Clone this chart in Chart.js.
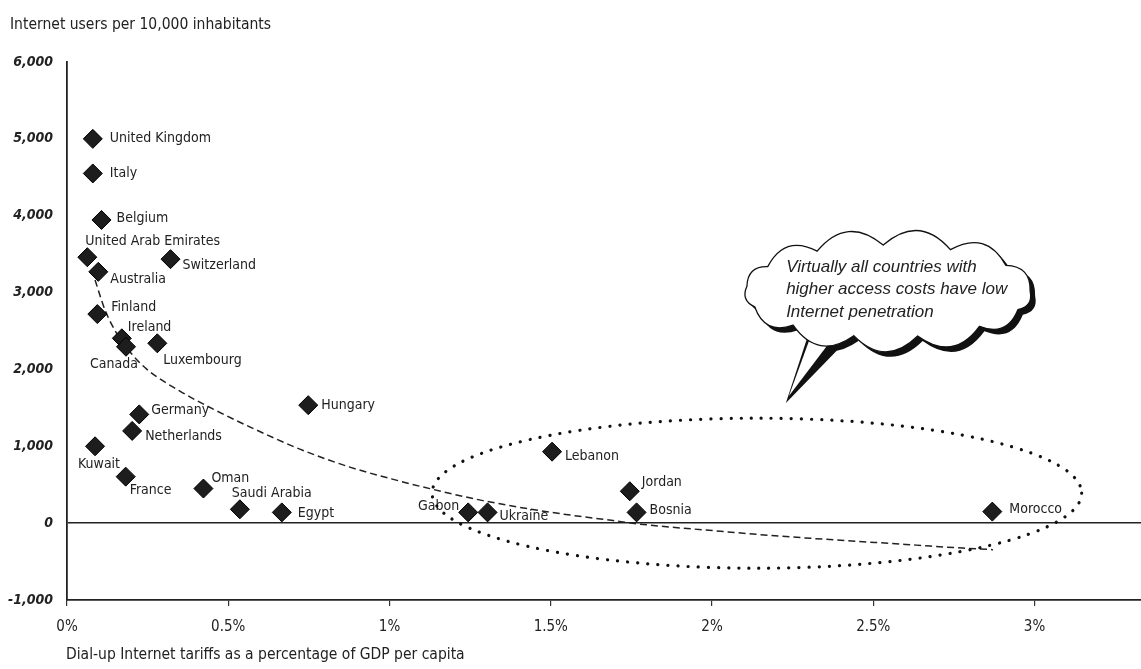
<!DOCTYPE html>
<html><head><meta charset="utf-8">
<script src="https://cdn.jsdelivr.net/npm/chart.js@4/dist/chart.umd.min.js"></script>
<style>html,body{margin:0;padding:0;background:#fff}canvas{display:block}</style>
</head><body>
<canvas id="c" width="1141" height="669"></canvas>
<script>
// ---- data ----
const countries = ["United Kingdom","Italy","Belgium","United Arab Emirates","Switzerland","Australia","Finland","Ireland","Canada","Luxembourg","Hungary","Germany","Netherlands","Kuwait","France","Oman","Saudi Arabia","Egypt","Lebanon","Jordan","Bosnia","Gabon","Ukraine","Morocco"];
const tariffPct = [0.08,0.08,0.107,0.063,0.321,0.097,0.094,0.17,0.183,0.28,0.748,0.224,0.202,0.087,0.182,0.423,0.536,0.666,1.504,1.745,1.766,1.244,1.304,2.869];
const usersPer10k = [5000,4550,3945,3460,3435,3270,2720,2405,2295,2340,1535,1415,1200,1000,605,450,180,140,930,415,140,140,140,150];
const trendPct = [0.087,0.118,0.154,0.195,0.247,0.350,0.453,0.568,0.722,0.877,1.032,1.125,1.290,1.497,1.693,1.777,2.004,2.210,2.634,2.778,2.871];
const trendUsers = [3163,2772,2469,2230,2004,1718,1484,1250,963,729,547,449,293,143,33,-13,-98,-169,-286,-325,-345];
const xTickValues = [0,0.5,1,1.5,2,2.5,3];
const yTickValues = [-1000,0,1000,2000,3000,4000,5000,6000];
const yTitle = "Internet users per 10,000 inhabitants";
const xTitle = "Dial-up Internet tariffs as a percentage of GDP per capita";
const calloutLines = ["Virtually all countries with","higher access costs have low","Internet penetration"];

// ---- presentation ----
const NARROW = "'Liberation Sans Narrow','DejaVu Sans Condensed',sans-serif";
const labelPlacement = {
  "United Kingdom":[17,0,'left'], "Italy":[17,0,'left'], "Belgium":[15,-2,'left'],
  "United Arab Emirates":[-2,-16,'left'], "Switzerland":[12,6,'left'], "Australia":[12,8,'left'],
  "Finland":[14,-7,'left'], "Ireland":[6,-11,'left'], "Canada":[-12,18,'center'],
  "Luxembourg":[6,17,'left'], "Hungary":[13,0,'left'], "Germany":[12,-4,'left'],
  "Netherlands":[13,5,'left'], "Kuwait":[4,18,'center'], "France":[4,14,'left'],
  "Oman":[8,-10,'left'], "Saudi Arabia":[-8,-16,'left'], "Egypt":[16,1,'left'],
  "Lebanon":[13,5,'left'], "Jordan":[12,-9,'left'], "Bosnia":[13,-2,'left'],
  "Gabon":[-9,-6,'right'], "Ukraine":[12,4,'left'], "Morocco":[17,-2,'left']
};
// highlighted region (data units)
const region = {cx:2.139, cy:390, rx:1.007, ry:976};
// callout anchor (data units)
const cloud = {cx:2.546, cy:3020, tipX:2.229, tipY:1562};

const points = countries.map((n,i)=>({x:tariffPct[i], y:usersPer10k[i], name:n}));
const trend = trendPct.map((p,i)=>({x:p, y:trendUsers[i]}));

const decorPlugin = {
  id:'decor',
  afterDatasetsDraw(chart){
    const ctx = chart.ctx, xs = chart.scales.x, ys = chart.scales.y;
    ctx.save();
    ctx.font = "14px " + NARROW;
    ctx.fillStyle = '#222';
    ctx.textBaseline = 'middle';
    const meta = chart.getDatasetMeta(0);
    meta.data.forEach((el,i)=>{
      const name = countries[i];
      const pl = labelPlacement[name] || [12,0,'left'];
      ctx.textAlign = pl[2];
      ctx.fillText(name, el.x + pl[0], el.y + pl[1]);
    });
    ctx.restore();

    const ecx = xs.getPixelForValue(region.cx), ecy = ys.getPixelForValue(region.cy);
    const erx = xs.getPixelForValue(region.cx + region.rx) - ecx;
    const ery = ecy - ys.getPixelForValue(region.cy + region.ry);
    ctx.save();
    ctx.strokeStyle = '#111';
    ctx.lineWidth = 3.2;
    ctx.lineCap = 'round';
    ctx.setLineDash([0.1, 10]);
    ctx.beginPath();
    ctx.ellipse(ecx, ecy, erx, ery, 0, 0, Math.PI*2);
    ctx.stroke();
    ctx.restore();
  },
  afterDraw(chart){
    const ctx = chart.ctx, xs = chart.scales.x, ys = chart.scales.y;
    ctx.save();
    ctx.font = "15.5px " + NARROW;
    ctx.fillStyle = '#222';
    ctx.textBaseline = 'middle';
    ctx.textAlign = 'left';
    ctx.fillText(yTitle, 10, 25);
    ctx.fillText(xTitle, chart.chartArea.left - 1, 655);
    ctx.restore();

    const cx = xs.getPixelForValue(cloud.cx), cy = ys.getPixelForValue(cloud.cy);
    const tx = xs.getPixelForValue(cloud.tipX), ty = ys.getPixelForValue(cloud.tipY);
    const rx = 142, ry = 46;
    const angles = [0,24,50,78,104,132,160,186,212,240,268,296,326];
    const pts = angles.map(a=>{const r=a*Math.PI/180; return [cx+Math.cos(r)*rx, cy+Math.sin(r)*ry];});
    function cloudPath(ox,oy){
      ctx.beginPath();
      ctx.moveTo(pts[0][0]+ox, pts[0][1]+oy);
      for(let i=0;i<pts.length;i++){
        const a = pts[i], b = pts[(i+1)%pts.length];
        const mx=(a[0]+b[0])/2, my=(a[1]+b[1])/2;
        const dx=b[0]-a[0], dy=b[1]-a[1], len=Math.hypot(dx,dy);
        let nx=dy/len, ny=-dx/len;
        if(nx*(mx-cx)+ny*(my-cy)<0){nx=-nx;ny=-ny;}
        const k = 0.5*len;
        ctx.quadraticCurveTo(mx+nx*k+ox, my+ny*k+oy, b[0]+ox, b[1]+oy);
      }
      ctx.closePath();
    }
    ctx.save();
    ctx.fillStyle = '#111';
    cloudPath(5,5); ctx.fill();
    ctx.beginPath();
    ctx.moveTo(cx-80, cy+44); ctx.lineTo(tx, ty); ctx.lineTo(cx-42, cy+50); ctx.closePath();
    ctx.fill();
    ctx.fillStyle = '#fff';
    ctx.beginPath();
    ctx.moveTo(cx-77, cy+44); ctx.lineTo(tx+3, ty-7); ctx.lineTo(cx-56, cy+48); ctx.closePath();
    ctx.fill();
    ctx.fillStyle = '#fff';
    ctx.strokeStyle = '#111';
    ctx.lineWidth = 1.3;
    cloudPath(0,0); ctx.fill(); ctx.stroke();
    ctx.fillStyle = '#222';
    ctx.font = "italic 17px 'Liberation Sans','DejaVu Sans',sans-serif";
    ctx.textAlign = 'left';
    ctx.textBaseline = 'middle';
    calloutLines.forEach((t,i)=>ctx.fillText(t, cx-102, cy-24+i*22.5));
    ctx.restore();
  }
};

new Chart(document.getElementById('c'), {
  type:'scatter',
  data:{
    datasets:[
      {label:'Countries', data:points, pointStyle:'rectRot', pointRadius:9.5, pointHoverRadius:9.5,
       backgroundColor:'#1d1d1d', borderColor:'#000', borderWidth:1, showLine:false},
      {label:'Trend', type:'line', data:trend, borderColor:'#222', borderWidth:1.5,
       borderDash:[7,4], pointRadius:0, fill:false, cubicInterpolationMode:'monotone'}
    ]
  },
  options:{
    responsive:false, animation:false,
    layout:{autoPadding:false, padding:{top:62,left:0,right:0,bottom:0}},
    plugins:{legend:{display:false}, tooltip:{enabled:false}},
    scales:{
      x:{type:'linear', min:0, max:3.33,
         afterFit(s){s.height=69; s.paddingRight=0; s.paddingLeft=0;},
         afterBuildTicks(s){s.ticks = xTickValues.map(v=>({value:v}));},
         ticks:{includeBounds:false, padding:12, color:'#222', font:{family:NARROW,size:15},
                callback:v=>v+'%'},
         grid:{drawOnChartArea:false, drawTicks:true, tickLength:6, color:'#333', lineWidth:1.2},
         border:{display:true, color:'#222', width:1.8}},
      y:{type:'linear', min:-1000, max:6000,
         afterFit(s){s.width=67; s.paddingTop=0; s.paddingBottom=0;},
         afterBuildTicks(s){s.ticks = yTickValues.map(v=>({value:v}));},
         ticks:{padding:14, color:'#222', font:{family:NARROW,size:14,style:'italic',weight:'bold'},
                callback:v=>v.toLocaleString('en-US')},
         grid:{drawTicks:false, color:c=>c.tick && c.tick.value===0 ? '#222':'rgba(0,0,0,0)', lineWidth:1.6},
         border:{display:true, color:'#222', width:1.8}}
    }
  },
  plugins:[decorPlugin]
});
</script>
</body></html>
